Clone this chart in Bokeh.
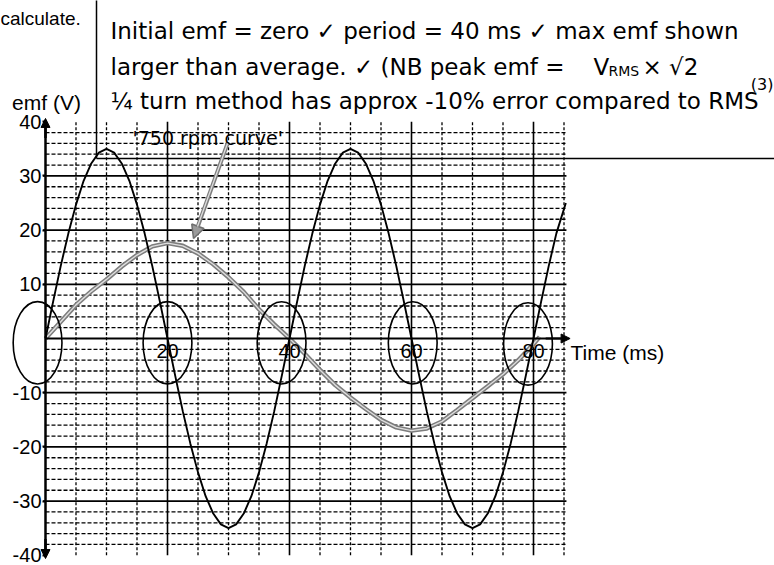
from bokeh.plotting import figure
from bokeh.models import Range1d, LinearAxis, FixedTicker, Arrow, NormalHead
from bokeh.core.properties import value
from bokeh.embed import file_html
from bokeh.resources import INLINE

# ---------------- data ----------------
# black curve: emf (V) against time (ms)
black_t = [0, 1.25, 2.5, 3.75, 5, 6.25, 7.5, 8.75, 10, 11.25, 12.5, 13.75, 15, 16.25, 17.5, 18.75,
           20, 21.25, 22.5, 23.75, 25, 26.25, 27.5, 28.75, 30, 31.25, 32.5, 33.75, 35, 36.25, 37.5, 38.75,
           40, 41.25, 42.5, 43.75, 45, 46.25, 47.5, 48.75, 50, 51.25, 52.5, 53.75, 55, 56.25, 57.5, 58.75,
           60, 61.25, 62.5, 63.75, 65, 66.25, 67.5, 68.75, 70, 71.25, 72.5, 73.75, 75, 76.25, 77.5, 78.75,
           80, 81.25, 82.5, 83.75, 85.3]
black_v = [0, 6.8, 13.4, 19.4, 24.7, 29.1, 32.3, 34.3, 35, 34.3, 32.3, 29.1, 24.7, 19.4, 13.4, 6.8,
           0, -6.8, -13.4, -19.4, -24.7, -29.1, -32.3, -34.3, -35, -34.3, -32.3, -29.1, -24.7, -19.4, -13.4, -6.8,
           0, 6.8, 13.4, 19.4, 24.7, 29.1, 32.3, 34.3, 35, 34.3, 32.3, 29.1, 24.7, 19.4, 13.4, 6.8,
           0, -6.8, -13.4, -19.4, -24.7, -29.1, -32.3, -34.3, -35, -34.3, -32.3, -29.1, -24.7, -19.4, -13.4, -6.8,
           0, 6.8, 13.4, 19.4, 25.0]

# grey '750 rpm curve'
grey_t = [0, 2.5, 5, 7.5, 10, 12.5, 15, 17.5, 20, 22.5, 25, 27.5, 30, 32.5, 35, 37.5, 40,
          42.5, 45, 47.5, 50, 52.5, 55, 57.5, 60, 62.5, 65, 67.5, 70, 72.5, 75, 77.5, 80, 81]
grey_v = [0, 3.1, 6.2, 8.7, 10.9, 13.3, 15.4, 17.0, 17.6, 17.1, 15.7, 13.7, 11.3, 8.6, 5.4, 2.6, 0,
          -2.8, -5.8, -8.6, -10.9, -13.0, -15.0, -16.4, -17.0, -16.6, -15.3, -13.2, -11.0, -8.8, -6.6, -4.0, -1.0, 0.3]

# circled zero crossings
ring_t = [-1.3, 20.0, 38.7, 60.2, 79.1]
ring_v = [-0.8, -0.8, -0.8, -0.8, -1.0]

# ticks and grid positions
emf_ticks = [-40, -30, -20, -10, 10, 20, 30, 40]
emf_tick_labels = ["-40", "-30", "-20", "-10", "10", "20", "30", "40"]
emf_major_grid = [-30, -20, -10, 10, 20, 30]
emf_minor_grid = [-38, -36, -34, -32, -28, -26, -24, -22, -18, -16, -14, -12, -8, -6, -4, -2,
                  2, 4, 6, 8, 12, 14, 16, 18, 22, 24, 26, 28, 32, 34, 36, 38]
time_ticks = [20, 40, 60, 80]
time_minor_grid = [5, 10, 15, 25, 30, 35, 45, 50, 55, 65, 70, 75, 85]
time_end = 85.4
emf_end = 40

# ---------------- geometry ----------------
W, H = 774, 565
OFF = 0                     # canvas offset seen in the picture
PX0, PY0 = 45.0, 338.0      # picture position of the origin
SX, SY = 6.1, 5.42          # px per ms, px per V
X0 = -(PX0 - OFF) / SX
X1 = X0 + W / SX
Y1 = (PY0 - OFF) / SY
Y0 = Y1 - H / SY


def tx(px):
    return (px - PX0) / SX


def vy(py):
    return (PY0 - py) / SY


p = figure(width=W, height=H, x_range=Range1d(X0, X1), y_range=Range1d(Y0, Y1),
           output_backend="svg", toolbar_location=None, min_border=0,
           x_axis_type=None, y_axis_type=None)
p.outline_line_color = None
p.background_fill_color = "white"
p.border_fill_color = "white"

# grid, limited to the drawn graph paper
n = len(emf_minor_grid)
p.segment(x0=[0] * n, y0=emf_minor_grid, x1=[time_end] * n, y1=emf_minor_grid,
          line_color="black", line_width=1.3, line_dash="4 2")
n = len(time_minor_grid)
p.segment(x0=time_minor_grid, y0=[-emf_end] * n, x1=time_minor_grid, y1=[emf_end] * n,
          line_color="black", line_width=1.3, line_dash="3 2")
n = len(emf_major_grid)
p.segment(x0=[-0.4] * n, y0=emf_major_grid, x1=[time_end] * n, y1=emf_major_grid,
          line_color="black", line_width=1.8)
n = len(time_ticks)
p.segment(x0=time_ticks, y0=[-emf_end] * n, x1=time_ticks, y1=[emf_end] * n,
          line_color="black", line_width=1.6)

# curves
p.line(grey_t, grey_v, line_color="#7d7d7d", line_width=4.5)
p.line(grey_t, grey_v, line_color="#dedede", line_width=1.4)
p.line(black_t, black_v, line_color="black", line_width=1.9)

# circled crossings
p.ellipse(x=ring_t, y=ring_v, width=8.0, height=15.2, fill_color=None,
          line_color="black", line_width=1.6)

# axes through the origin
font = "Liberation Sans"
yax = LinearAxis(fixed_location=0, ticker=FixedTicker(ticks=emf_ticks), bounds=(-emf_end, emf_end),
                 major_label_overrides=dict(zip(emf_ticks, emf_tick_labels)),
                 axis_line_width=2.5, axis_line_color="black",
                 major_tick_out=3, major_tick_in=0, minor_tick_out=0, minor_tick_in=0,
                 major_tick_line_width=2,
                 major_label_text_font=font, major_label_text_font_size="20px",
                 major_label_text_color="black", major_label_standoff=1)
p.add_layout(yax, "left")
xax = LinearAxis(fixed_location=0, ticker=FixedTicker(ticks=time_ticks), bounds=(0, time_end),
                 axis_line_width=2.2, axis_line_color="black",
                 major_tick_out=0, major_tick_in=0, minor_tick_out=0, minor_tick_in=0,
                 major_label_text_font=font, major_label_text_font_size="20px",
                 major_label_text_color="black", major_label_standoff=5)
p.add_layout(xax, "below")

# axis arrow heads
p.add_layout(Arrow(end=NormalHead(size=9, fill_color="black", line_color="black"),
                   x_start=0, y_start=37, x_end=0, y_end=40.6, line_width=2.5))
p.add_layout(Arrow(end=NormalHead(size=9, fill_color="black", line_color="black"),
                   x_start=0, y_start=-37, x_end=0, y_end=-40.6, line_width=2.5))
p.add_layout(Arrow(end=NormalHead(size=9, fill_color="black", line_color="black"),
                   x_start=82, y_start=0, x_end=86.0, y_end=0, line_width=2.2))

# pointer to the grey curve
p.add_layout(Arrow(end=NormalHead(size=13, fill_color="#9a9a9a", line_color="#6e6e6e", line_width=1.5),
                   x_start=tx(227), y_start=vy(143), x_end=tx(193), y_end=vy(238),
                   line_color="#7d7d7d", line_width=4))
p.add_layout(Arrow(x_start=tx(227), y_start=vy(143), x_end=tx(197), y_end=vy(226), end=None,
                   line_color="#dedede", line_width=1.3))

# mark-scheme table frame
p.segment(x0=[tx(96), tx(96)], y0=[vy(-5), vy(158)], x1=[tx(96), tx(790)], y1=[vy(158), vy(158)],
          line_color="black", line_width=1.5)

hand = value("DejaVu Sans")
arial = value("Liberation Sans")


def put(px, py, s, size, f=hand, align="left", baseline="alphabetic"):
    p.text(x=[tx(px)], y=[vy(py)], text=[s], text_font=f, text_font_size=size,
           text_align=align, text_baseline=baseline, text_color="black")


put(0, 18, "calculate.", "19px", f=arial)
put(110, 30, "Initial emf = zero \u2713 period = 40 ms \u2713 max emf shown", "23px")
put(110, 66, "larger than average. \u2713 (NB peak emf =", "23px")
put(593, 66, "V", "23px")
put(608, 70, "RMS", "14px")
put(642, 66, "\u00d7 \u221a2", "23px")
put(110, 100, "\u00bc turn method has approx -10% error compared to RMS", "23px")
put(773, 84, "(3)", "16px", align="right")
put(132, 137, "'750 rpm curve'", "19px")
put(46, 102, "emf (V)", "21px", f=arial, align="center", baseline="middle")
put(570, 352, "Time (ms)", "21px", f=arial, baseline="middle")

open("out.html", "w").write(file_html(p, INLINE))
